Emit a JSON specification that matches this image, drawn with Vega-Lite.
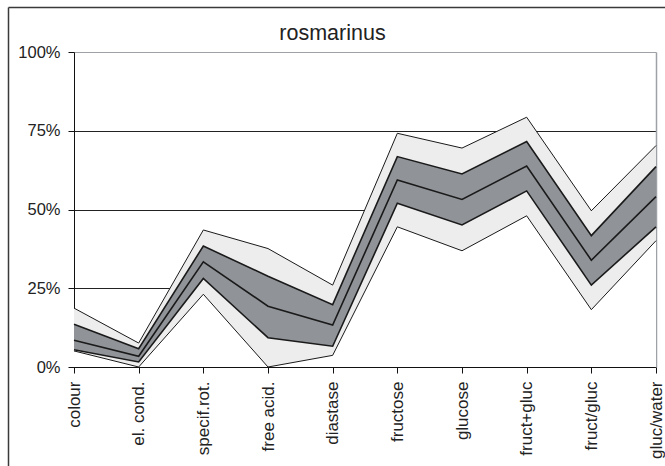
{
  "$schema": "https://vega.github.io/schema/vega-lite/v6.json",
  "width": 657,
  "height": 459,
  "autosize": {"type": "none"},
  "padding": {"left": 8, "top": 7, "right": 0, "bottom": 0},
  "background": "white",
  "config": {
    "font": "Liberation Sans",
    "view": {"stroke": null}
  },
  "title": {
    "text": "rosmarinus",
    "fontSize": 21.5,
    "fontWeight": "normal",
    "color": "#222222",
    "anchor": "middle",
    "dx": -4,
    "offset": -37
  },
  "data": {
    "values": [
      {"cat": "colour", "min": 0.051, "q1": 0.055, "med": 0.085, "q3": 0.136, "max": 0.187},
      {"cat": "el. cond.", "min": 0.0, "q1": 0.016, "med": 0.034, "q3": 0.058, "max": 0.076},
      {"cat": "specif.rot.", "min": 0.231, "q1": 0.281, "med": 0.334, "q3": 0.384, "max": 0.435},
      {"cat": "free acid.", "min": 0.0, "q1": 0.093, "med": 0.193, "q3": 0.288, "max": 0.376},
      {"cat": "diastase", "min": 0.037, "q1": 0.066, "med": 0.133, "q3": 0.198, "max": 0.26},
      {"cat": "fructose", "min": 0.445, "q1": 0.52, "med": 0.594, "q3": 0.668, "max": 0.742},
      {"cat": "glucose", "min": 0.369, "q1": 0.451, "med": 0.532, "q3": 0.613, "max": 0.695},
      {"cat": "fruct+gluc", "min": 0.48, "q1": 0.559, "med": 0.638, "q3": 0.716, "max": 0.793},
      {"cat": "fruct/gluc", "min": 0.182, "q1": 0.26, "med": 0.339, "q3": 0.417, "max": 0.496},
      {"cat": "gluc/water", "min": 0.401, "q1": 0.445, "med": 0.541, "q3": 0.636, "max": 0.703}
    ]
  },
  "resolve": {
    "scale": {"x": "independent", "y": "independent"},
    "axis": {"x": "independent", "y": "independent"}
  },
  "layer": [
    {
      "mark": {"type": "point", "opacity": 0},
      "encoding": {
        "x": {
          "field": "max",
          "type": "quantitative",
          "scale": {"domain": [0, 1], "nice": false, "zero": false},
          "axis": {
            "orient": "top",
            "offset": 0,
            "title": null,
            "labels": false,
            "ticks": false,
            "grid": false,
            "domain": true,
            "domainColor": "#3a3a3a",
            "domainWidth": 1.5
          }
        },
        "y": {
          "field": "max",
          "type": "quantitative",
          "scale": {"domain": [0, 1], "nice": false, "zero": false},
          "axis": {
            "orient": "left",
            "offset": 0,
            "title": null,
            "labels": false,
            "ticks": false,
            "grid": false,
            "domain": true,
            "domainColor": "#3a3a3a",
            "domainWidth": 1.5
          }
        }
      }
    },
    {
      "encoding": {
        "x": {
          "field": "cat",
          "type": "ordinal",
          "sort": null,
          "scale": {"type": "point", "padding": 0, "range": [66, 648]},
          "axis": {
            "orient": "bottom",
            "title": null,
            "offset": -99,
            "labelAngle": 270,
            "labelAlign": "right",
            "labelBaseline": "middle",
            "labelFontSize": 17,
            "labelColor": "#222222",
            "labelPadding": 8,
            "tickSize": 6,
            "tickColor": "#111111",
            "domainColor": "#111111",
            "grid": false
          }
        }
      },
      "resolve": {"axis": {"y": "independent"}},
      "layer": [
        {
          "mark": {"type": "area", "fill": "white", "interpolate": "linear"},
          "encoding": {
            "y": {
              "field": "min",
              "type": "quantitative",
              "scale": {"domain": [0, 1], "nice": false, "range": [360, 45]},
              "axis": {
                "orient": "left",
                "title": null,
                "offset": -66,
                "values": [0, 0.25, 0.5, 0.75, 1],
                "format": ".0%",
                "labelFontSize": 16.5,
                "labelColor": "#222222",
                "labelPadding": 8,
                "tickSize": 6,
                "tickColor": "#111111",
                "domainColor": "#111111",
                "grid": true,
                "gridColor": {"condition": {"test": "datum.value >= 1", "value": "#9ea2a6"}, "value": "#222222"},
                "gridWidth": 1
              }
            },
            "y2": {"datum": 0}
          }
        },
        {
          "mark": {"type": "area", "fill": "#ededed"},
          "encoding": {
            "y": {"field": "max", "type": "quantitative", "axis": null},
            "y2": {"field": "min"}
          }
        },
        {
          "mark": {"type": "area", "fill": "#909498"},
          "encoding": {
            "y": {"field": "q3", "type": "quantitative", "axis": null},
            "y2": {"field": "q1"}
          }
        },
        {
          "mark": {"type": "line", "stroke": "#1a1a1a", "strokeWidth": 1},
          "encoding": {
            "y": {
              "field": "max",
              "type": "quantitative",
              "axis": {
                "orient": "right",
                "offset": -9,
                "title": null,
                "labels": false,
                "ticks": false,
                "grid": false,
                "domain": true,
                "domainColor": "#9ea2a6",
                "domainWidth": 1.5
              }
            }
          }
        },
        {
          "mark": {"type": "line", "stroke": "#1a1a1a", "strokeWidth": 1},
          "encoding": {"y": {"field": "min", "type": "quantitative", "axis": null}}
        },
        {
          "mark": {"type": "line", "stroke": "#1a1a1a", "strokeWidth": 1.6},
          "encoding": {"y": {"field": "q3", "type": "quantitative", "axis": null}}
        },
        {
          "mark": {"type": "line", "stroke": "#1a1a1a", "strokeWidth": 1.6},
          "encoding": {"y": {"field": "med", "type": "quantitative", "axis": null}}
        },
        {
          "mark": {"type": "line", "stroke": "#1a1a1a", "strokeWidth": 1.6},
          "encoding": {"y": {"field": "q1", "type": "quantitative", "axis": null}}
        }
      ]
    }
  ]
}
